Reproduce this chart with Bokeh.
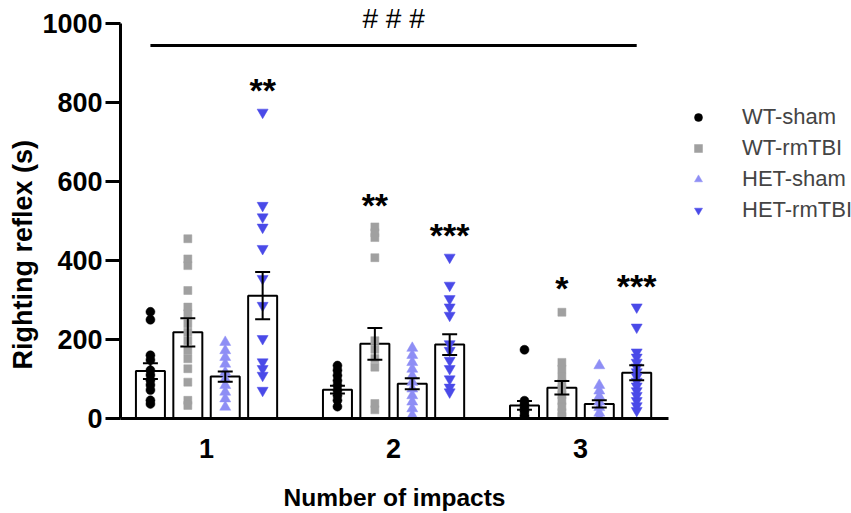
from bokeh.plotting import figure
from bokeh.models import (Legend, LegendItem, FixedTicker, Range1d, Title)
from bokeh.embed import file_html
from bokeh.resources import INLINE
from bokeh.core.properties import value

# ---------------- data ----------------
impacts = [1, 2, 3]
tick_labels = ["1", "2", "3"]
y_ticks = [0, 200, 400, 600, 800, 1000]
groups = ["WT-sham", "WT-rmTBI", "HET-sham", "HET-rmTBI"]

wt_sham_mean = [120, 73, 33]
wt_sham_sem = [20, 10, 11]
wt_rmtbi_mean = [218, 189, 78]
wt_rmtbi_sem = [36, 40, 17]
het_sham_mean = [106, 88, 37]
het_sham_sem = [13, 14, 9]
het_rmtbi_mean = [311, 187, 116]
het_rmtbi_sem = [60, 26, 19]

wt_sham_pts = [
    [270, 250, 160, 148, 122, 110, 97, 85, 72, 46, 37],
    [134, 122, 109, 96, 84, 71, 58, 46, 30],
    [174, 45, 36, 27, 18, 8, 2],
]
wt_rmtbi_pts = [
    [455, 404, 387, 324, 282, 265, 240, 218, 197, 172, 151, 126, 92, 46, 33],
    [485, 470, 458, 407, 197, 175, 152, 130, 38, 22],
    [269, 142, 125, 105, 90, 75, 60, 45, 30, 15, 5],
]
het_sham_pts = [
    [193, 172, 155, 138, 117, 100, 84, 67, 50, 29],
    [178, 160, 142, 125, 108, 92, 75, 58, 42, 25, 8],
    [134, 84, 70, 56, 42, 28, 14, 3],
]
het_rmtbi_pts = [
    [775, 539, 510, 484, 430, 354, 286, 202, 143, 126, 109, 71],
    [408, 337, 303, 282, 261, 189, 172, 147, 126, 100, 79, 67],
    [282, 231, 168, 155, 142, 130, 118, 106, 94, 82, 70, 58, 45, 32, 20],
]

# significance marks: (impact, group index, value at mark centre, text)
stars_impact = [1, 2, 2, 3, 3]
stars_group = [3, 1, 3, 1, 3]
stars_value = [838, 547, 471, 339, 344]
stars_text = ["**", "**", "***", "*", "***"]

hash_text = "# # #"
hash_value = 1013
hash_line_value = 944
hash_line_from = (1, 0)   # impact 1, WT-sham
hash_line_to = (3, 3)     # impact 3, HET-rmTBI

# ---------------- styling ----------------
offsets = [-0.3, -0.1, 0.1, 0.3]
bar_w = 0.155
cap_w = 0.08
colors = ["#000000", "#A0A0A0", "#8E8EF5", "#4A4AE8"]
markers = ["circle", "square", "triangle", "inverted_triangle"]
msizes = [9, 8, 11, 11]
FONT = "Liberation Sans"

means = [wt_sham_mean, wt_rmtbi_mean, het_sham_mean, het_rmtbi_mean]
sems = [wt_sham_sem, wt_rmtbi_sem, het_sham_sem, het_rmtbi_sem]
pts = [wt_sham_pts, wt_rmtbi_pts, het_sham_pts, het_rmtbi_pts]

p = figure(width=851, height=513, frame_width=548, frame_height=418,
           min_border_left=120, min_border_right=183, min_border_top=0,
           min_border_bottom=95,
           x_range=Range1d(0.54, 3.47), y_range=Range1d(0, 1058),
           output_backend="svg", toolbar_location=None)
p.outline_line_color = None
p.xgrid.visible = False
p.ygrid.visible = False

# bars
for g in range(4):
    xs = [imp + offsets[g] for imp in impacts]
    p.vbar(x=xs, top=means[g], width=bar_w, bottom=0,
           fill_color="white", line_color="black", line_width=2)

# points
renderers = []
for g in range(4):
    xs, ys = [], []
    for i, imp in enumerate(impacts):
        for v in pts[g][i]:
            xs.append(imp + offsets[g])
            ys.append(v)
    r = p.scatter(x=xs, y=ys, marker=markers[g], size=msizes[g],
                  fill_color=colors[g], line_color=colors[g], line_width=0.5)
    renderers.append(r)

# error bars
for g in range(4):
    xs = [imp + offsets[g] for imp in impacts]
    lo = [m - s for m, s in zip(means[g], sems[g])]
    hi = [m + s for m, s in zip(means[g], sems[g])]
    p.segment(x0=xs, y0=lo, x1=xs, y1=hi, line_color="black", line_width=2)
    p.segment(x0=[x - cap_w / 2 for x in xs], y0=hi,
              x1=[x + cap_w / 2 for x in xs], y1=hi,
              line_color="black", line_width=2)
    p.segment(x0=[x - cap_w / 2 for x in xs], y0=lo,
              x1=[x + cap_w / 2 for x in xs], y1=lo,
              line_color="black", line_width=2)

# stars
sx = [imp + offsets[g] for imp, g in zip(stars_impact, stars_group)]
p.text(x=sx, y=stars_value, text=stars_text, text_align="center",
       text_baseline="middle", text_font=value(FONT), text_font_style="bold",
       text_font_size="34px", text_color="black", y_offset=3)

# ### line and text
lx0 = hash_line_from[0] + offsets[hash_line_from[1]]
lx1 = hash_line_to[0] + offsets[hash_line_to[1]]
p.segment(x0=[lx0], y0=[hash_line_value], x1=[lx1], y1=[hash_line_value],
          line_color="black", line_width=3)
p.text(x=[(lx0 + lx1) / 2], y=[hash_value], text=[hash_text],
       text_align="center", text_baseline="middle", text_font=value(FONT),
       text_font_size="28px", text_color="black")

# x axis
p.xaxis.ticker = FixedTicker(ticks=impacts)
p.xaxis.major_label_overrides = {imp: lab for imp, lab in zip(impacts, tick_labels)}
p.xaxis.major_tick_out = 0
p.xaxis.major_tick_in = 0
p.xaxis.minor_tick_out = 0
p.xaxis.minor_tick_in = 0
p.xaxis.axis_line_width = 3
p.xaxis.major_label_standoff = 20
p.xaxis.axis_label = "Number of impacts"
p.xaxis.axis_label_standoff = 23
p.xaxis.axis_label_text_font = FONT
p.xaxis.axis_label_text_font_style = "bold"
p.xaxis.axis_label_text_font_size = "24.5px"
p.xaxis.major_label_text_font = FONT
p.xaxis.major_label_text_font_style = "bold"
p.xaxis.major_label_text_font_size = "27px"

# y axis (line limited to 0..1000)
p.yaxis.ticker = FixedTicker(ticks=y_ticks)
p.yaxis.bounds = (0, 1000)
p.yaxis.major_tick_out = 15
p.yaxis.major_tick_in = 0
p.yaxis.minor_tick_out = 0
p.yaxis.minor_tick_in = 0
p.yaxis.major_tick_line_width = 3
p.yaxis.axis_line_width = 3
p.yaxis.major_label_standoff = 3
p.yaxis.major_label_text_font = FONT
p.yaxis.major_label_text_font_style = "bold"
p.yaxis.major_label_text_font_size = "27px"
for ax in (p.xaxis, p.yaxis):
    ax.axis_line_color = "black"
    ax.major_label_text_color = "black"
    ax.axis_label_text_color = "black"

# y axis title, placed as in the original (lower than the axis centre)
ytitle = Title(text="Righting reflex (s)", align="left", offset=49,
               text_font=FONT, text_font_style="bold", text_font_size="27px",
               text_color="black", standoff=4)
p.add_layout(ytitle, "left")

# legend
legend = Legend(items=[LegendItem(label=groups[g], renderers=[renderers[g]])
                       for g in range(4)],
                location=(20, 195), orientation="vertical",
                glyph_width=20, glyph_height=26, label_height=26,
                label_standoff=34, spacing=5, padding=0, margin=0,
                label_text_font=FONT, label_text_font_size="22px",
                border_line_alpha=0, background_fill_alpha=0)
p.add_layout(legend, "right")

open("out.html", "w").write(file_html(p, INLINE))
